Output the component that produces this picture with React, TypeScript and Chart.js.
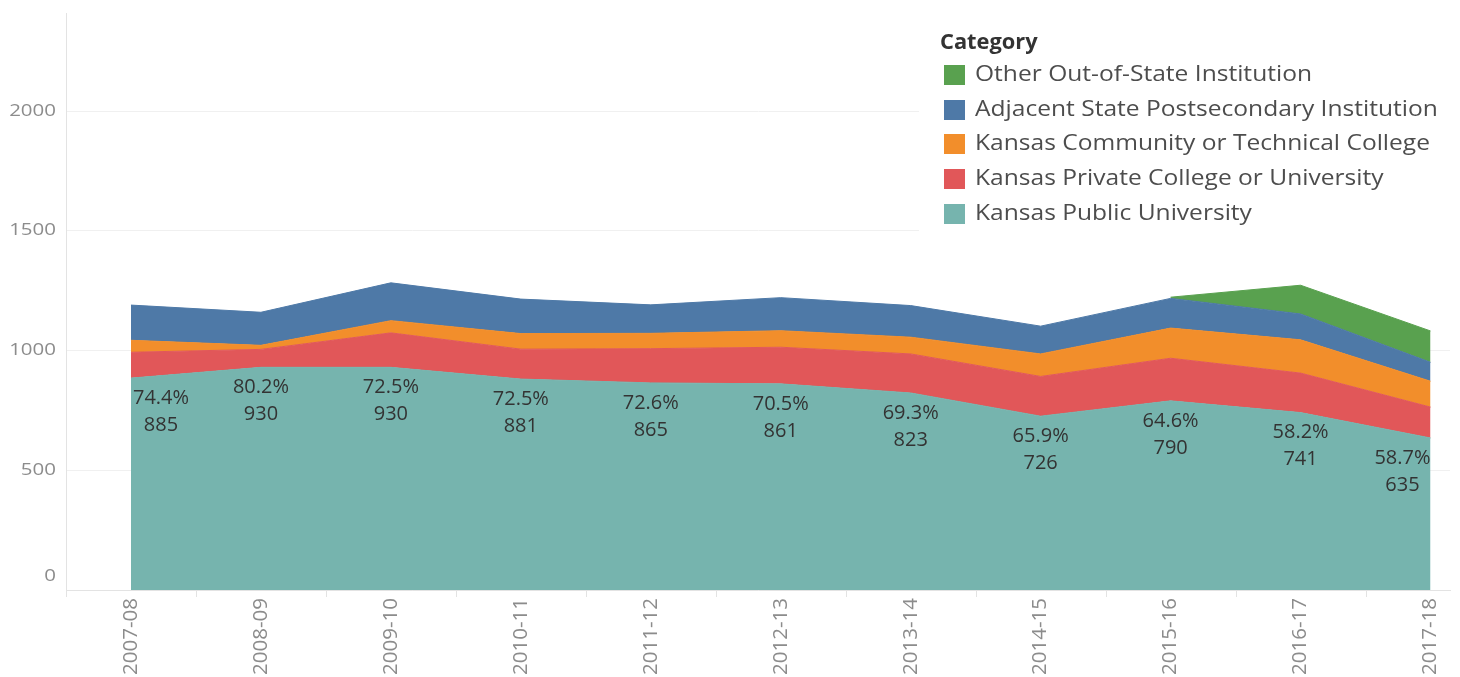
import { useEffect, useRef } from 'react';
import { Chart, registerables } from 'chart.js';

Chart.register(...registerables);

const categories = ['2007-08', '2008-09', '2009-10', '2010-11', '2011-12', '2012-13', '2013-14', '2014-15', '2015-16', '2016-17', '2017-18'];

const kansasPublicUniversity = [885, 930, 930, 881, 865, 861, 823, 726, 790, 741, 635];
const kansasPrivateCollege = [108, 75, 144, 125, 143, 153, 163, 166, 178, 165, 129];
const kansasCommunityTechnical = [50, 17, 51, 65, 64, 69, 70, 94, 126, 139, 108];
const adjacentStatePostsecondary = [147, 138, 158, 144, 119, 138, 132, 116, 124, 108, 79];
const otherOutOfState = [null, null, null, null, null, null, null, null, 5, 120, 131];

const publicShareLabels = ['74.4%', '80.2%', '72.5%', '72.5%', '72.6%', '70.5%', '69.3%', '65.9%', '64.6%', '58.2%', '58.7%'];

const yTickValues = [0, 500, 1000, 1500, 2000];

const legendTitle = 'Category';
const legendNames = [
  'Other Out-of-State Institution',
  'Adjacent State Postsecondary Institution',
  'Kansas Community or Technical College',
  'Kansas Private College or University',
  'Kansas Public University',
];
const legendColors = ['#59A14F', '#4E79A7', '#F28E2B', '#E15759', '#76B4AE'];

const FONT = '"Open Sans", "Noto Sans", sans-serif';

function drawText(ctx: CanvasRenderingContext2D, text: string, x: number, y: number, sx: number) {
  ctx.save();
  ctx.translate(x, y);
  ctx.scale(sx, 1);
  ctx.fillText(text, 0, 0);
  ctx.restore();
}

export default function App() {
  const ref = useRef<HTMLCanvasElement>(null);

  useEffect(() => {
    document.body.style.margin = '0';
    const canvas = ref.current;
    if (!canvas) return;

    const toPoints = (arr: (number | null)[]) => arr.map((v, i) => ({ x: i, y: v }));

    const mk = (label: string, data: (number | null)[], color: string, fill: any) => ({
      label,
      data: toPoints(data),
      backgroundColor: color,
      borderColor: color,
      borderWidth: 1,
      fill,
      pointRadius: 0,
      tension: 0,
      spanGaps: false,
    });

    const overlay = {
      id: 'overlay',
      afterDatasetsDraw(chart: any) {
        const ctx = chart.ctx;
        const xs = chart.scales.x;
        const ys = chart.scales.y;
        const area = chart.chartArea;
        ctx.save();
        // y labels
        ctx.font = `16px ${FONT}`;
        ctx.fillStyle = '#8c8c8c';
        ctx.textAlign = 'right';
        ctx.textBaseline = 'middle';
        yTickValues.forEach((v) => {
          let y = ys.getPixelForValue(v);
          if (v === 0) y -= 14;
          drawText(ctx, String(v), 56, y, 1.28);
        });
        // category boundary ticks
        ctx.strokeStyle = '#e3e3e3';
        ctx.lineWidth = 1;
        for (let i = 0; i <= categories.length; i++) {
          const x = Math.round(xs.getPixelForValue(i - 0.5)) + 0.5;
          if (x > area.right + 1) continue;
          ctx.beginPath();
          ctx.moveTo(x, area.bottom);
          ctx.lineTo(x, area.bottom + 7);
          ctx.stroke();
        }
        // data labels
        const meta = chart.getDatasetMeta(0);
        const leftX = xs.getPixelForValue(0);
        const rightX = xs.getPixelForValue(categories.length - 1);
        ctx.font = `20px ${FONT}`;
        ctx.fillStyle = '#333333';
        ctx.textAlign = 'center';
        ctx.textBaseline = 'middle';
        meta.data.forEach((pt: any, i: number) => {
          const pct = publicShareLabels[i];
          const w = ctx.measureText(pct).width;
          let x = pt.x;
          x = Math.max(x, leftX + w / 2 + 2);
          x = Math.min(x, rightX - w / 2);
          ctx.fillText(pct, x, pt.y + 20);
          ctx.fillText(String(kansasPublicUniversity[i]), x, pt.y + 47);
        });
        ctx.restore();
      },
      afterDraw(chart: any) {
        const ctx = chart.ctx;
        ctx.save();
        ctx.fillStyle = '#ffffff';
        ctx.fillRect(919, 14, 541, 224);
        ctx.textAlign = 'left';
        ctx.textBaseline = 'middle';
        ctx.font = `bold 21px ${FONT}`;
        ctx.fillStyle = '#333333';
        drawText(ctx, legendTitle, 940, 43, 1.04);
        ctx.font = `21px ${FONT}`;
        legendNames.forEach((name, i) => {
          const cy = 75 + i * 34.7;
          ctx.fillStyle = legendColors[i];
          ctx.fillRect(944, Math.round(cy - 10), 21, 20);
          ctx.fillStyle = '#4d4d4d';
          drawText(ctx, name, 975, cy, 1.17);
        });
        ctx.restore();
      },
    };

    const chart = new Chart(canvas, {
      type: 'line',
      data: {
        datasets: [
          mk('Kansas Public University', kansasPublicUniversity, legendColors[4], 'origin'),
          mk('Kansas Private College or University', kansasPrivateCollege, legendColors[3], '-1'),
          mk('Kansas Community or Technical College', kansasCommunityTechnical, legendColors[2], '-1'),
          mk('Adjacent State Postsecondary Institution', adjacentStatePostsecondary, legendColors[1], '-1'),
          mk('Other Out-of-State Institution', otherOutOfState, legendColors[0], '-1'),
        ] as any,
      },
      options: {
        animation: false,
        responsive: false,
        maintainAspectRatio: false,
        layout: { padding: { left: 0, right: 10, top: 13, bottom: 0 } },
        plugins: {
          legend: { display: false },
          tooltip: { enabled: false },
        },
        scales: {
          x: {
            type: 'linear',
            min: -0.5,
            max: 10.15,
            afterBuildTicks: (s: any) => {
              s.ticks = categories.map((_, i) => ({ value: i }));
            },
            afterFit: (s: any) => {
              s.height = 87;
              s.paddingLeft = 0;
              s.paddingRight = 0;
            },
            ticks: {
              autoSkip: false,
              minRotation: 90,
              maxRotation: 90,
              padding: 8,
              color: '#8c8c8c',
              font: { size: 20.5, family: FONT },
              callback: (v: any) => categories[v as number],
            },
            grid: { display: false, drawTicks: false },
            border: { display: true, color: '#e3e3e3' },
          },
          y: {
            stacked: true,
            min: 0,
            max: 2410,
            afterBuildTicks: (s: any) => {
              s.ticks = yTickValues.map((v) => ({ value: v }));
            },
            afterFit: (s: any) => {
              s.width = 66;
              s.paddingTop = 0;
              s.paddingBottom = 0;
            },
            ticks: { display: false },
            grid: { color: '#f0f0f0', drawTicks: false },
            border: { display: true, color: '#e3e3e3' },
          },
        },
      } as any,
      plugins: [overlay],
    });

    return () => chart.destroy();
  }, []);

  return <canvas ref={ref} width={1460} height={677} style={{ display: 'block' }} />;
}
